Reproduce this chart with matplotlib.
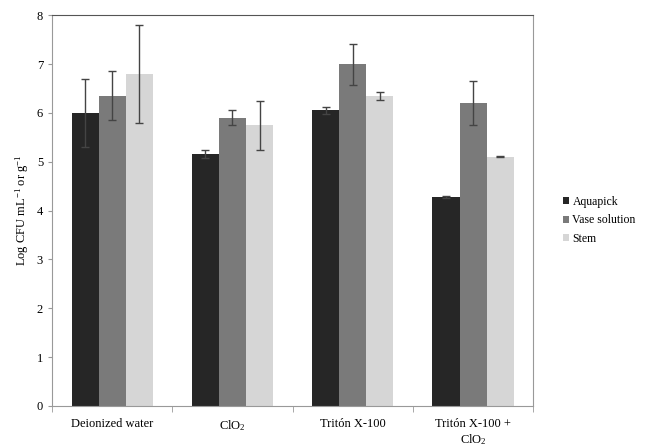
import matplotlib
matplotlib.use("Agg")
import matplotlib.pyplot as plt
import numpy as np

plt.rcParams['font.family'] = ['Liberation Serif', 'DejaVu Serif']
plt.rcParams['mathtext.fontset'] = 'custom'
plt.rcParams['mathtext.rm'] = 'Liberation Serif'
plt.rcParams['mathtext.it'] = 'Liberation Serif:italic'

treatments = ["Deionized water", "ClO$_2$", "Tritón X-100", "Tritón X-100 +\nClO$_2$"]
series = ["Aquapick", "Vase solution", "Stem"]
aquapick = [6.0, 5.15, 6.05, 4.28]
vase = [6.35, 5.9, 7.0, 6.2]
stem = [6.8, 5.75, 6.35, 5.1]
aquapick_err = [0.7, 0.08, 0.07, 0.02]
vase_err = [0.5, 0.15, 0.42, 0.45]
stem_err = [1.0, 0.5, 0.08, 0.01]
colors = ["#262626", "#7a7a7a", "#d6d6d6"]

fig = plt.figure(figsize=(6.51, 4.48), dpi=100)
ax = fig.add_axes([0.080, 0.094, 0.739, 0.872])

x = np.arange(len(treatments))
w = 0.225
data = [aquapick, vase, stem]
errs = [aquapick_err, vase_err, stem_err]
for i in range(3):
    ax.bar(x + (i - 1) * w, data[i], w, color=colors[i], label=series[i],
           yerr=errs[i], error_kw=dict(ecolor="#444444", elinewidth=1, capsize=3, capthick=1))

ax.set_xlim(-0.5, 3.5)
ax.set_ylim(0, 8)
ax.set_yticks(range(9))
ax.set_xticks(x)
ax.set_xticklabels(treatments, fontsize=9)
ax.tick_params(axis='x', length=0, pad=9)
ax.set_xticks(np.arange(-0.5, 4, 1), minor=True)
ax.tick_params(axis='x', which='minor', length=4, color="#999999")
ax.tick_params(axis='y', labelsize=9, length=3, color="#999999")
ax.set_ylabel("Log CFU mL$^{-1}$ or g$^{-1}$", fontsize=9)
for s in ['left', 'right', 'bottom']:
    ax.spines[s].set_color("#999999")
ax.spines['top'].set_color("#555555")

ax.legend(loc='center left', bbox_to_anchor=(1.04, 0.475), frameon=False, fontsize=8.5,
          handlelength=0.5, handleheight=0.5, handletextpad=0.3, labelspacing=0.55)

fig.savefig("out.png", dpi=100)
